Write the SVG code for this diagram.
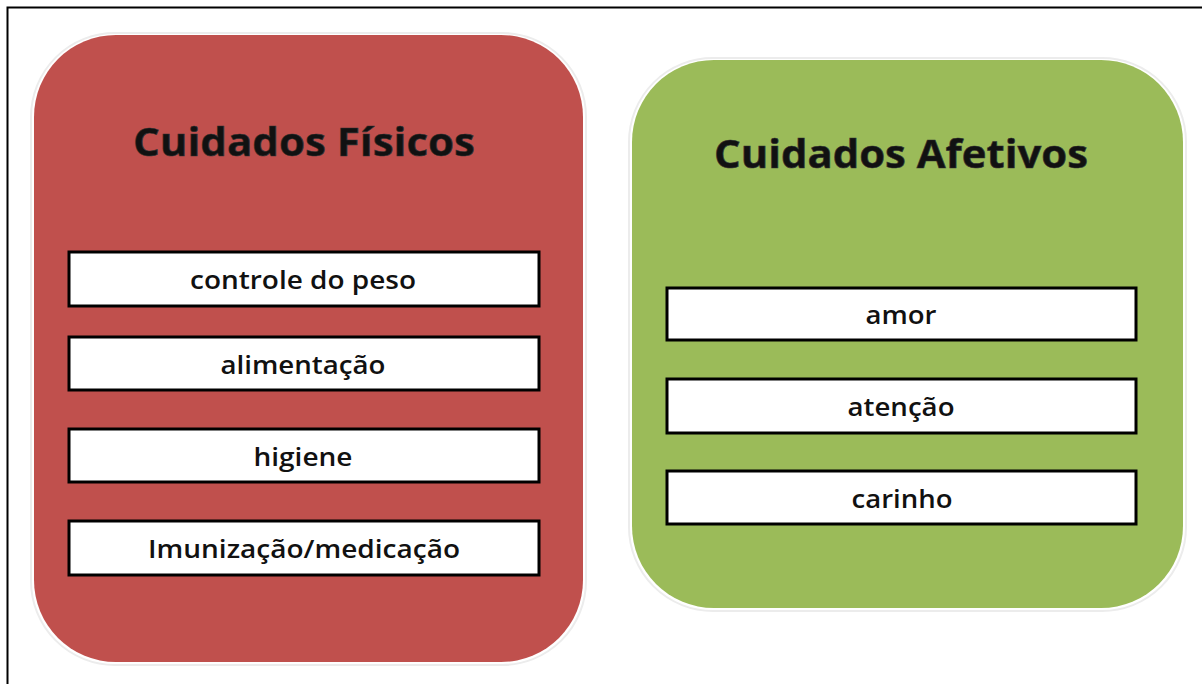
<svg xmlns="http://www.w3.org/2000/svg" width="1202" height="684" viewBox="0 0 1202 684">
<style>
.halo{fill:none;stroke:#ececec;stroke-width:2}
.item rect{fill:#ffffff;stroke:#000000;stroke-width:3}
.item text{font-family:"Open Sans","Liberation Sans",sans-serif;font-weight:600;font-size:26px;fill:#111;text-anchor:middle}
.title{font-family:"Open Sans","Liberation Sans",sans-serif;font-weight:700;font-size:39px;fill:#111;text-anchor:middle;stroke:#333;stroke-width:0.6}
</style>
<rect x="0" y="0" width="1202" height="684" fill="#ffffff"/>
<path d="M7.5 684 V7.5 H1202" fill="none" stroke="#000" stroke-width="2"/>
<g id="fisicos">
<rect class="halo" x="31" y="33" width="555" height="632" rx="84"/>
<rect x="34" y="35" width="549" height="627" rx="82" fill="#c0504d"/>
<text class="title" x="304" y="156" textLength="342" lengthAdjust="spacingAndGlyphs">Cuidados Físicos</text>
</g>
<g id="afetivos">
<rect class="halo" x="629" y="58" width="557" height="553" rx="84"/>
<rect x="632" y="60" width="551" height="548" rx="82" fill="#9bbb59"/>
<text class="title" x="901" y="168" textLength="374" lengthAdjust="spacingAndGlyphs">Cuidados Afetivos</text>
</g>
<g id="controle" class="item"><rect x="69" y="252" width="470" height="54"/><text x="303" y="289" textLength="226" lengthAdjust="spacingAndGlyphs">controle do peso</text></g>
<g id="alimentacao" class="item"><rect x="69" y="337" width="470" height="53"/><text x="303" y="374" textLength="165" lengthAdjust="spacingAndGlyphs">alimentação</text></g>
<g id="higiene" class="item"><rect x="69" y="429" width="470" height="53"/><text x="303" y="466" textLength="99" lengthAdjust="spacingAndGlyphs">higiene</text></g>
<g id="imunizacao" class="item"><rect x="69" y="521" width="470" height="54"/><text x="304" y="558" textLength="312" lengthAdjust="spacingAndGlyphs">Imunização/medicação</text></g>
<g id="amor" class="item"><rect x="667" y="288" width="469" height="52"/><text x="901" y="324" textLength="71" lengthAdjust="spacingAndGlyphs">amor</text></g>
<g id="atencao" class="item"><rect x="667" y="379" width="469" height="54"/><text x="901" y="416" textLength="107" lengthAdjust="spacingAndGlyphs">atenção</text></g>
<g id="carinho" class="item"><rect x="667" y="471" width="469" height="53"/><text x="902" y="508" textLength="101" lengthAdjust="spacingAndGlyphs">carinho</text></g>
<g id="connectors"></g>
</svg>
